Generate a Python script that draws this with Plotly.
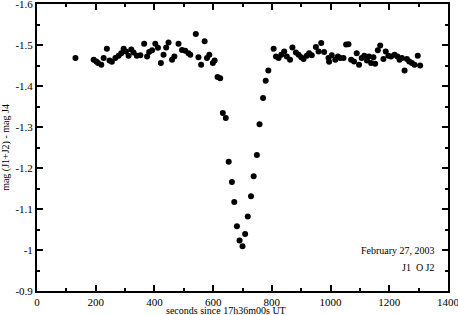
import plotly.graph_objects as go

# seconds since 17h36m00s UT
seconds = [131, 193, 202, 208, 219, 227, 238, 247, 255, 267, 278, 287, 295, 303,
           312, 321, 329, 340, 352, 365, 375, 382, 392, 403, 412, 422, 431, 440,
           448, 460, 468, 482, 494, 505, 516, 522, 541, 550, 559, 571, 579, 587,
           599, 605, 615, 624,
           633, 643, 653, 664, 672, 681, 690, 700, 709, 718, 729, 738, 749, 758,
           770, 779, 788,
           806, 814, 823, 832, 842, 851, 862, 870, 882, 891, 900, 908, 919, 927,
           936, 950, 959, 968, 978, 993, 995, 1004, 1016, 1025, 1033, 1044, 1053,
           1061, 1070, 1080, 1089, 1097, 1106, 1115, 1124, 1131, 1138, 1146, 1152,
           1161, 1169, 1180, 1188, 1197, 1206, 1218, 1228, 1235, 1243, 1252, 1260,
           1268, 1277, 1286, 1297, 1305]
mag_diff = [-1.468, -1.464, -1.460, -1.456, -1.452, -1.468, -1.491, -1.462, -1.459,
            -1.468, -1.474, -1.480, -1.491, -1.484, -1.474, -1.489, -1.482, -1.474,
            -1.475, -1.503, -1.472, -1.483, -1.487, -1.503, -1.493, -1.456, -1.476,
            -1.494, -1.506, -1.464, -1.472, -1.503, -1.488, -1.486, -1.480, -1.476,
            -1.527, -1.470, -1.452, -1.509, -1.468, -1.476, -1.456, -1.462, -1.422,
            -1.419,
            -1.334, -1.322, -1.215, -1.166, -1.117, -1.058, -1.023, -1.009, -1.039,
            -1.082, -1.131, -1.180, -1.232, -1.307, -1.371, -1.413, -1.438,
            -1.491, -1.472, -1.468, -1.476, -1.484, -1.472, -1.464, -1.494, -1.482,
            -1.476, -1.470, -1.466, -1.474, -1.480, -1.475, -1.495, -1.484, -1.505,
            -1.483, -1.468, -1.459, -1.475, -1.464, -1.472, -1.468, -1.468, -1.501,
            -1.502, -1.464, -1.460, -1.480, -1.452, -1.468, -1.474, -1.462, -1.472,
            -1.456, -1.470, -1.454, -1.487, -1.499, -1.466, -1.484, -1.474, -1.472,
            -1.476, -1.472, -1.464, -1.468, -1.438, -1.466, -1.460, -1.456, -1.452,
            -1.474, -1.450]

x_ticks = [0, 200, 400, 600, 800, 1000, 1200, 1400]
y_ticks = [-1.6, -1.5, -1.4, -1.3, -1.2, -1.1, -1.0, -0.9]
y_labels = ["-1.6", "-1.5", "-1.4", "-1.3", "-1.2", "-1.1", "-1", "-0.9"]

serif = "Liberation Serif, Times New Roman, serif"
font = dict(family=serif, size=11, color="black")
title_font = dict(family=serif, size=10, color="black")

fig = go.Figure()
fig.add_trace(go.Scatter(x=seconds, y=mag_diff, mode="markers",
                         marker=dict(color="black", size=6), showlegend=False))

axis_common = dict(showline=True, linecolor="black", linewidth=2, mirror="ticks",
                   ticks="inside", ticklen=6, tickwidth=2, tickcolor="black",
                   showgrid=False, zeroline=False, automargin=False,
                   ticklabeloverflow="allow", tickfont=font)

fig.update_xaxes(range=[0, 1400], tickvals=x_ticks,
                 minor=dict(ticks="inside", ticklen=3, tickwidth=2, dtick=100,
                            tickcolor="black", showgrid=False),
                 **axis_common)
fig.update_yaxes(range=[-0.9, -1.6], tickvals=y_ticks, ticktext=y_labels,
                 minor=dict(ticks="inside", ticklen=3, tickwidth=2, dtick=0.05,
                            tick0=-1.6, tickcolor="black", showgrid=False),
                 title=dict(text="mag (J1+J2) - mag J4", standoff=4, font=title_font),
                 **axis_common)

# x title sits tight under the tick labels, as in the original
fig.add_annotation(x=0.46, y=0, xref="paper", yref="paper", yanchor="top", yshift=-12,
                   text="seconds since 17h36m00s UT", showarrow=False, font=title_font)

fig.add_annotation(x=1362, y=-0.998, xref="x", yref="y", text="February 27, 2003",
                   showarrow=False, xanchor="right", yanchor="middle", font=title_font)
fig.add_annotation(x=1362, y=-0.957, xref="x", yref="y", text="J1&nbsp;&nbsp;O J2",
                   showarrow=False, xanchor="right", yanchor="middle", font=title_font)

fig.update_layout(width=458, height=315, plot_bgcolor="white", paper_bgcolor="white",
                  margin=dict(l=37, r=10, t=4, b=24))

# drop the default 8px page margin so the figure sits at the window corner
fig.write_html("out.html", config={"displayModeBar": False},
               post_script="document.body.style.margin='0';")
